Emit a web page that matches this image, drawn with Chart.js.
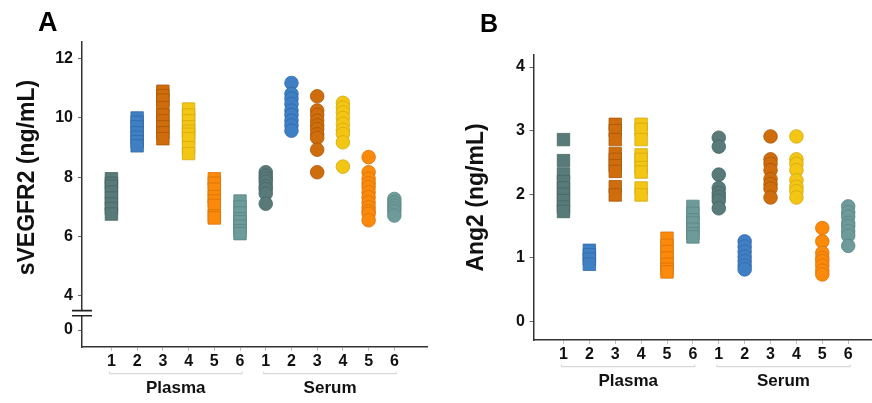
<!DOCTYPE html>
<html><head><meta charset="utf-8">
<script src="https://cdn.jsdelivr.net/npm/chart.js@4"></script>
<style>
html,body{margin:0;padding:0;background:#fff;}
#wrap{position:relative;width:872px;height:403px;overflow:hidden;background:#fff;}
.panel{position:absolute;top:0;width:436px;height:403px;}
#pa{left:0;}
#pb{left:436px;}
.lab{position:absolute;font-family:"Liberation Sans",Arial,Helvetica,sans-serif;font-weight:bold;color:#000;}
</style></head>
<body><div id="wrap">
<div class="panel" id="pa"><canvas id="ca"></canvas></div>
<div class="panel" id="pb"><canvas id="cb"></canvas></div>
<div class="lab" style="left:38px;top:9px;font-size:27px;line-height:27px">A</div>
<div class="lab" style="left:480px;top:11px;font-size:25px;line-height:25px">B</div>
</div>
<script>
// ---------- data ----------
const sampleTypes = ['Plasma', 'Serum'];
const groupLabels = ['1', '2', '3', '4', '5', '6'];
const groupColors = ['#587b7a', '#3f80c4', '#cf6d0c', '#f3c614', '#fb8a0a', '#6d9b99'];
const groupBorders = ['#46645f', '#316aa8', '#aa5709', '#d3a80c', '#d9720a', '#5a8583'];

// sVEGFR2 (ng/mL), one list per group 1..6
const sVEGFR2Plasma = [
  [7.95, 7.8, 7.7, 7.5, 7.3, 7.1, 6.95, 6.76],
  [10.0, 9.85, 9.7, 9.5, 9.35, 9.2, 9.06],
  [10.9, 10.75, 10.6, 10.35, 10.1, 9.9, 9.7, 9.5, 9.3],
  [10.3, 10.1, 9.9, 9.7, 9.55, 9.45, 9.3, 9.0, 8.8],
  [7.95, 7.8, 7.6, 7.35, 7.2, 7.05, 6.7, 6.63],
  [7.2, 7.0, 6.8, 6.6, 6.5, 6.35, 6.2, 6.1]
];
const sVEGFR2Serum = [
  [8.17, 8.05, 7.95, 7.85, 7.7, 7.6, 7.45, 7.11],
  [11.18, 10.81, 10.65, 10.47, 10.25, 10.1, 9.91, 9.75, 9.57],
  [10.73, 10.25, 10.1, 9.91, 9.75, 9.63, 9.45, 9.33, 8.93, 8.17],
  [10.51, 10.35, 10.19, 10.0, 9.8, 9.6, 9.46, 9.18, 8.36],
  [8.68, 8.17, 7.95, 7.8, 7.67, 7.5, 7.33, 7.15, 6.99, 6.85, 6.77, 6.55],
  [7.27, 7.15, 7.05, 6.95, 6.85, 6.71]
];
// Ang2 (ng/mL)
const ang2Plasma = [
  [2.86, 2.53, 2.32, 2.2, 2.1, 2.0, 1.9, 1.8, 1.73],
  [1.12, 1.05, 0.98, 0.9],
  [3.1, 3.0, 2.86, 2.64, 2.55, 2.45, 2.36, 2.12, 1.99],
  [3.1, 3.02, 2.86, 2.62, 2.55, 2.42, 2.35, 2.1, 1.99],
  [1.31, 1.2, 1.1, 1.0, 0.9, 0.82, 0.78],
  [1.81, 1.7, 1.6, 1.55, 1.45, 1.38, 1.33]
];
const ang2Serum = [
  [2.89, 2.75, 2.31, 2.1, 2.02, 1.96, 1.9, 1.78],
  [1.26, 1.18, 1.1, 1.02, 0.95, 0.88, 0.82],
  [2.91, 2.55, 2.48, 2.38, 2.24, 2.16, 2.09, 1.95],
  [2.91, 2.55, 2.48, 2.38, 2.22, 2.12, 2.05, 1.95],
  [1.47, 1.26, 1.08, 1.0, 0.95, 0.88, 0.8, 0.74],
  [1.81, 1.72, 1.65, 1.55, 1.5, 1.42, 1.35, 1.19]
];
const yTicksA = [4, 6, 8, 10, 12];
const yTicksABelowBreak = [0];
const yTicksB = [0, 1, 2, 3, 4];

// ---------- helpers ----------
const FONT = '"Liberation Sans", Arial, Helvetica, sans-serif';
const xPositions = sampleTypes.flatMap((s, si) => groupLabels.map((g, gi) => si * groupLabels.length + gi + 1));
const xTickLabels = sampleTypes.flatMap(() => groupLabels);

function buildDatasets(plasma, serum, yID) {
  const ds = [];
  [plasma, serum].forEach((series, si) => {
    series.forEach((vals, gi) => {
      ds.push({
        label: sampleTypes[si] + ' ' + groupLabels[gi],
        data: vals.map(v => ({ x: si * groupLabels.length + gi + 1, y: v })),
        yAxisID: yID,
        pointStyle: si === 0 ? 'rect' : 'circle',
        pointRadius: si === 0 ? 8.8 : 6.8,
        pointHoverRadius: si === 0 ? 8.8 : 6.8,
        backgroundColor: groupColors[gi],
        borderColor: groupBorders[gi],
        borderWidth: 0.8,
        showLine: false
      });
    });
  });
  return ds;
}

const groupPlugin = {
  id: 'groupBrackets',
  afterDraw(chart, args, opts) {
    const ctx = chart.ctx, xs = chart.scales.x;
    const axisY = chart.chartArea.bottom;
    const n = groupLabels.length;
    ctx.save();
    sampleTypes.forEach((name, si) => {
      const x1 = xs.getPixelForValue(si * n + 1) - 2;
      const x2 = xs.getPixelForValue(si * n + n) + 2;
      const yb = axisY + opts.bracketOffset;
      ctx.strokeStyle = '#cfcfcf';
      ctx.lineWidth = 1;
      ctx.beginPath();
      ctx.moveTo(x1, yb - 2); ctx.lineTo(x1, yb); ctx.lineTo(x2, yb); ctx.lineTo(x2, yb - 2);
      ctx.stroke();
      ctx.fillStyle = '#111';
      ctx.font = 'bold 17px ' + FONT;
      ctx.textAlign = 'center';
      ctx.textBaseline = 'middle';
      ctx.fillText(name, (x1 + x2) / 2, axisY + opts.labelOffset);
    });
    if (opts.breakAxis) {
      const ys = chart.scales[opts.breakAxis];
      const bx = ys.right, by = ys.bottom;
      ctx.fillStyle = '#fff';
      ctx.fillRect(bx - 2, by - 2, 4, 4);
      ctx.strokeStyle = '#222';
      ctx.lineWidth = 1.6;
      ctx.beginPath();
      ctx.moveTo(bx - 10, by - 2.6); ctx.lineTo(bx + 10, by - 2.6);
      ctx.moveTo(bx - 10, by + 2.6); ctx.lineTo(bx + 10, by + 2.6);
      ctx.stroke();
    }
    ctx.restore();
  }
};

const tickFont = { family: FONT, size: 16, weight: 'bold' };

function xScale(min, max, height) {
  return {
    type: 'linear', min, max,
    afterBuildTicks: s => { s.ticks = xPositions.map(v => ({ value: v })); },
    afterFit: s => { s.height = height; },
    ticks: { callback: (v, i) => xTickLabels[i], font: tickFont, color: '#111', padding: 1, autoSkip: false, maxRotation: 0 },
    grid: { drawOnChartArea: false, tickLength: 4, color: '#bdbdbd' },
    border: { color: '#333', width: 1.5 }
  };
}
function yScale(min, max, ticks, width, pad, extra) {
  return Object.assign({
    type: 'linear', position: 'left', min, max,
    afterBuildTicks: s => { s.ticks = ticks.map(v => ({ value: v })); },
    afterFit: s => { s.width = width; },
    ticks: { font: tickFont, color: '#111', padding: pad },
    grid: { drawOnChartArea: false, tickLength: 4, color: '#666' },
    border: { color: '#333', width: 1.5 }
  }, extra || {});
}

Chart.defaults.font.family = FONT;

new Chart(document.getElementById('ca'), {
  type: 'scatter',
  data: { datasets: buildDatasets(sVEGFR2Plasma, sVEGFR2Serum, 'y') },
  options: {
    responsive: true, maintainAspectRatio: false, animation: false,
    layout: { autoPadding: false, padding: { top: 42, right: 9, left: 0, bottom: 0 } },
    plugins: { legend: { display: false }, tooltip: { enabled: false },
      groupBrackets: { bracketOffset: 26.7, labelOffset: 41.6, breakAxis: 'y' } },
    scales: {
      x: xScale(-0.144, 13.27, 56),
      yLow: yScale(-0.57, 0.57, yTicksABelowBreak, 82, 5, { stack: 'sv', stackWeight: 1.14, weight: 0 }),
      y: yScale(3.42, 12.56, yTicksA, 82, 5, { stack: 'sv', stackWeight: 9.14, weight: 1,
        title: { display: true, text: 'sVEGFR2 (ng/mL)', color: '#111', font: { family: FONT, size: 23, weight: 'bold' }, padding: { top: 14, bottom: 0 } } })
    }
  },
  plugins: [groupPlugin]
});

new Chart(document.getElementById('cb'), {
  type: 'scatter',
  data: { datasets: buildDatasets(ang2Plasma, ang2Serum, 'y') },
  options: {
    responsive: true, maintainAspectRatio: false, animation: false,
    layout: { autoPadding: false, padding: { top: 55, right: 0, left: 0, bottom: 0 } },
    plugins: { legend: { display: false }, tooltip: { enabled: false },
      groupBrackets: { bracketOffset: 26.7, labelOffset: 41.7 } },
    scales: {
      x: xScale(-0.158, 12.92, 63),
      y: yScale(-0.29, 4.19, yTicksB, 97.5, 4.5, {
        title: { display: true, text: 'Ang2 (ng/mL)', color: '#111', font: { family: FONT, size: 23, weight: 'bold' }, padding: { top: 27, bottom: 0 } } })
    }
  },
  plugins: [groupPlugin]
});
</script>
</body></html>
